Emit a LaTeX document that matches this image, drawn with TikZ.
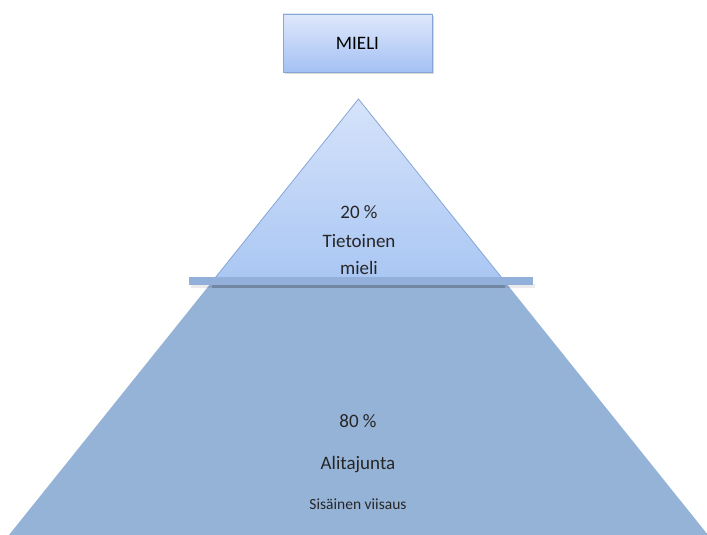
\documentclass[tikz,border=0pt]{standalone}
\usepackage{fontspec}
\setmainfont{Carlito}
\usepackage{tikz}
\usetikzlibrary{calc,shadows}
\definecolor{tipTop}{HTML}{D6E3FA}
\definecolor{tipBottom}{HTML}{A9C6F3}
\definecolor{tipLine}{HTML}{86A6D6}
\definecolor{baseFill}{HTML}{95B3D7}
\definecolor{barFill}{HTML}{92B0DA}
\definecolor{boxTop}{HTML}{DFE8FB}
\definecolor{boxBottom}{HTML}{A4C1F4}
\definecolor{boxLine}{HTML}{86A6D6}
\tikzset{x=1pt, y=-1pt,
    title box/.style={draw=boxLine, top color=boxTop, bottom color=boxBottom,
          minimum width=149pt, minimum height=58pt, inner sep=0pt,
          drop shadow={opacity=0.3, shadow xshift=1.5pt, shadow yshift=-2pt},
          font=\fontsize{19}{21}\selectfont},
    level text/.style={font=\fontsize{19}{22}\selectfont, text=black!85},
    small text/.style={font=\fontsize{15.5}{18}\selectfont, text=black!85}
    }
\begin{document}
\begin{tikzpicture}
\useasboundingbox (0,0) rectangle (707,535);
\coordinate (Apex) at (358.5,99);
\coordinate (WaterL) at (211.8,282);
\coordinate (WaterR) at (505.2,282);
\coordinate (BaseL) at (9,535);
\coordinate (BaseR) at (708,535);
% lower part
\fill[baseFill] (WaterL) -- (WaterR) -- (BaseR) -- (BaseL) -- cycle;
% tip
\shade[top color=tipTop, bottom color=tipBottom] (Apex) -- (WaterR) -- (WaterL) -- cycle;
\draw[tipLine, line width=0.8pt] (WaterL) -- (Apex) -- (WaterR);
% water line
\fill[black, opacity=0.08] (191,284) rectangle (535,288);
\fill[black!25!baseFill] ($(WaterL)+(0,2)$) rectangle ($(WaterR)+(0,5.5)$);
\fill[barFill] (189,277) rectangle (533,284.5);

\node[title box] (Mind) at (357.5,43) {MIELI};

\node[level text] (Pct20) at (359,212) {20 \%};
\node[level text] (Conscious1) at (359,241) {Tietoinen};
\node[level text] (Conscious2) at (359,268) {mieli};

\node[level text] (Pct80) at (358,421) {80 \%};
\node[level text] (Subconscious) at (358,465) {Alitajunta};
\node[small text] (Wisdom) at (358,504) {Sisäinen viisaus};
\end{tikzpicture}
\end{document}
